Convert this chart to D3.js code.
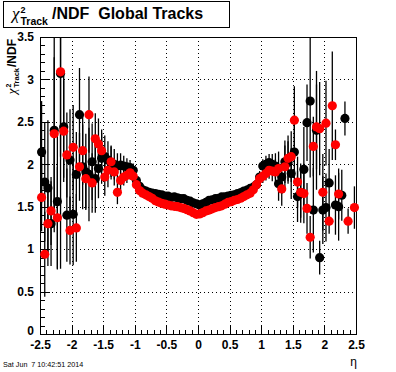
<!DOCTYPE html>
<html>
<head>
<meta charset="utf-8">
<script src="https://cdn.jsdelivr.net/npm/d3@7"></script>
<style>
  body { margin: 0; background: #fff; }
  svg { display: block; font-family: "Liberation Sans", Arial, sans-serif; }
</style>
</head>
<body>
<svg id="chart" width="396" height="372"></svg>
<script>
// bin centres in eta (100 bins from -2.5 to 2.5)
const etaBins = [
  -2.475, -2.425, -2.375, -2.325, -2.275, -2.225, -2.175, -2.125, -2.075, -2.025,
  -1.975, -1.925, -1.875, -1.825, -1.775, -1.725, -1.675, -1.625, -1.575, -1.525,
  -1.475, -1.425, -1.375, -1.325, -1.275, -1.225, -1.175, -1.125, -1.075, -1.025,
  -0.975, -0.925, -0.875, -0.825, -0.775, -0.725, -0.675, -0.625, -0.575, -0.525,
  -0.475, -0.425, -0.375, -0.325, -0.275, -0.225, -0.175, -0.125, -0.075, -0.025,
  0.025, 0.075, 0.125, 0.175, 0.225, 0.275, 0.325, 0.375, 0.425, 0.475,
  0.525, 0.575, 0.625, 0.675, 0.725, 0.775, 0.825, 0.875, 0.925, 0.975,
  1.025, 1.075, 1.125, 1.175, 1.225, 1.275, 1.325, 1.375, 1.425, 1.475,
  1.525, 1.575, 1.625, 1.675, 1.725, 1.775, 1.825, 1.875, 1.925, 1.975,
  2.025, 2.075, 2.125, 2.175, 2.225, 2.275, 2.325, 2.375, 2.425, 2.475
];

// black histogram
const blackChi2 = [
  2.145, 1.79, 1.72, 1.30, 2.40, 1.56, 3.07, 2.44, 1.40, 2.05,
  1.41, 1.88, 2.585, 1.97, 1.91, 1.88, 2.03, 1.83, 1.95, 2.07,
  2.09, 2.05, 2.02, 2.00, 1.98, 1.99, 1.98, 1.97, 1.96, 1.93,
  1.81, 1.74, 1.70, 1.685, 1.67, 1.66, 1.655, 1.645, 1.64, 1.625,
  1.625, 1.61, 1.615, 1.605, 1.595, 1.595, 1.575, 1.565, 1.545, 1.535,
  1.52, 1.535, 1.55, 1.575, 1.58, 1.595, 1.60, 1.615, 1.615, 1.625,
  1.635, 1.64, 1.655, 1.665, 1.685, 1.695, 1.715, 1.73, 1.76, 1.85,
  1.98, 2.00, 2.02, 2.00, 1.98, 1.77, 1.85, 2.03, 2.02, 1.89,
  2.145, 1.62, 1.66, 1.94, 2.49, 2.745, 1.46, 2.40, 0.90, 1.46,
  1.49, 1.78, null, 1.52, 1.50, 1.635, 2.54, null, null, null
];
const blackErr = [
  0.6, 0.7, 0.8, 0.5, 1.2, 0.8, 2.3, 0.6, 0.55, 0.6,
  0.6, 0.5, 0.55, 0.5, 0.45, 0.55, 0.45, 0.4, 0.35, 0.3,
  0.25, 0.22, 0.2, 0.18, 0.15, 0.14, 0.12, 0.1, 0.09, 0.08,
  0.07, 0.06, 0.05, 0.05, 0.04, 0.04, 0.04, 0.04, 0.04, 0.04,
  0.04, 0.04, 0.04, 0.04, 0.04, 0.04, 0.04, 0.04, 0.04, 0.04,
  0.04, 0.04, 0.04, 0.04, 0.04, 0.04, 0.04, 0.04, 0.04, 0.04,
  0.04, 0.04, 0.04, 0.04, 0.04, 0.04, 0.05, 0.05, 0.06, 0.07,
  0.08, 0.1, 0.1, 0.12, 0.15, 0.2, 0.2, 0.25, 0.25, 0.3,
  0.35, 0.3, 0.35, 0.5, 0.45, 0.9, 0.5, 0.7, 0.2, 0.4,
  0.4, 0.4, null, 0.35, 0.4, 0.3, 0.2, null, null, null
];

// red histogram
const redChi2 = [
  1.61, 0.94, 1.30, 1.45, 2.36, 1.37, 3.09, 2.39, 2.11, 1.22,
  2.20, 1.25, 1.97, 2.16, 1.83, 2.585, 1.78, 2.30, 2.24, 2.16,
  1.85, 1.93, 2.03, 1.91, 1.67, 1.81, 1.85, 1.87, 1.90, 1.86,
  1.76, 1.69, 1.66, 1.64, 1.62, 1.60, 1.57, 1.555, 1.54, 1.53,
  1.52, 1.51, 1.505, 1.50, 1.49, 1.48, 1.465, 1.45, 1.43, 1.41,
  1.415, 1.43, 1.45, 1.46, 1.475, 1.49, 1.50, 1.51, 1.53, 1.55,
  1.56, 1.575, 1.585, 1.60, 1.62, 1.64, 1.66, 1.70, 1.76, 1.83,
  1.86, 1.89, 1.93, 1.92, 1.91, 1.95, 1.71, 1.97, 2.07, 2.09,
  2.52, 1.79, 1.67, 1.655, 1.48, 1.14, 2.21, 2.44, 2.42, 1.67,
  2.485, 1.33, 2.69, 2.23, 1.65, null, null, 1.33, null, 1.49
];
const redErr = [
  0.4, 0.5, 0.5, 0.4, 0.9, 0.6, 1.0, 0.6, 0.5, 0.4,
  0.5, 0.4, 0.4, 0.4, 0.35, 0.45, 0.35, 0.3, 0.3, 0.25,
  0.22, 0.2, 0.18, 0.16, 0.14, 0.12, 0.1, 0.09, 0.08, 0.07,
  0.06, 0.05, 0.05, 0.04, 0.04, 0.04, 0.04, 0.04, 0.04, 0.04,
  0.04, 0.04, 0.04, 0.04, 0.04, 0.04, 0.04, 0.04, 0.04, 0.04,
  0.04, 0.04, 0.04, 0.04, 0.04, 0.04, 0.04, 0.04, 0.04, 0.04,
  0.04, 0.04, 0.04, 0.04, 0.04, 0.04, 0.05, 0.05, 0.06, 0.07,
  0.08, 0.08, 0.1, 0.12, 0.15, 0.2, 0.2, 0.25, 0.27, 0.3,
  0.4, 0.3, 0.3, 0.35, 0.3, 0.25, 0.35, 0.5, 0.55, 0.45,
  0.5, 0.15, 0.64, 0.18, 0.3, null, null, 0.15, null, 0.25
];

const xTicks = [-2.5, -2, -1.5, -1, -0.5, 0, 0.5, 1, 1.5, 2, 2.5];
const yTicks = [0, 0.5, 1, 1.5, 2, 2.5, 3, 3.5];
const titleText = '/NDF  Global Tracks';
const xLabel = 'η';
const dateText = 'Sat Jun  7 10:42:51 2014';

const margin = { top: 37, right: 40, bottom: 38, left: 40 };
const width = 396;
const height = 372;
const innerW = width - margin.left - margin.right;
const innerH = height - margin.top - margin.bottom;

const svg = d3.select('#chart');

const xScale = d3.scaleLinear().domain([-2.5, 2.5]).range([margin.left, margin.left + innerW]);
const yScale = d3.scaleLinear().domain([0, 3.5]).range([margin.top + innerH, margin.top]);

svg.append('rect').attr('width', width).attr('height', height).attr('fill', '#fff');

// clip for error bars
svg.append('clipPath').attr('id', 'frameClip')
  .append('rect')
  .attr('x', margin.left - 6).attr('y', margin.top)
  .attr('width', innerW + 12).attr('height', innerH);

// grid (dotted)
const grid = svg.append('g').attr('stroke', '#000').attr('stroke-width', 1)
  .attr('stroke-dasharray', '1,3').attr('shape-rendering', 'crispEdges');
grid.selectAll('.gx').data(xTicks).join('line')
  .attr('x1', (d) => Math.round(xScale(d)) + 0.5).attr('x2', (d) => Math.round(xScale(d)) + 0.5)
  .attr('y1', margin.top).attr('y2', margin.top + innerH);
grid.selectAll('.gy').data(yTicks).join('line')
  .attr('y1', (d) => Math.round(yScale(d)) + 0.5).attr('y2', (d) => Math.round(yScale(d)) + 0.5)
  .attr('x1', margin.left).attr('x2', margin.left + innerW);

// axes
function styleAxis(g) {
  g.select('.domain').remove();
  g.selectAll('line').attr('stroke', '#000').attr('shape-rendering', 'crispEdges');
  g.selectAll('text').attr('fill', '#000');
  g.attr('font-size', 12).attr('font-weight', 'bold')
    .attr('font-family', '"Liberation Sans", Arial, sans-serif');
}

svg.append('g')
  .attr('transform', `translate(0, ${margin.top + innerH})`)
  .call(d3.axisBottom(xScale).ticks(50).tickSize(-4.5).tickFormat(''))
  .call(styleAxis);
svg.append('g')
  .attr('transform', `translate(0, ${margin.top + innerH})`)
  .call(d3.axisBottom(xScale).tickValues(xTicks).tickSize(-9).tickPadding(6).tickFormat((d) => String(d)))
  .call(styleAxis);

svg.append('g')
  .attr('transform', `translate(${margin.left}, 0)`)
  .call(d3.axisLeft(yScale).ticks(35).tickSize(-4.7).tickFormat(''))
  .call(styleAxis);
const yAxisG = svg.append('g')
  .attr('transform', `translate(${margin.left}, 0)`)
  .call(d3.axisLeft(yScale).tickValues(yTicks).tickSize(-9.5).tickPadding(6).tickFormat((d) => String(d)))
  .call(styleAxis);
// the "0" label sits slightly above the axis corner, as in the original
yAxisG.selectAll('.tick').filter((d) => d === 0).select('text').attr('dy', '0.05em');

// frame
svg.append('rect')
  .attr('x', margin.left + 0.5).attr('y', margin.top + 0.5)
  .attr('width', innerW).attr('height', innerH)
  .attr('fill', 'none').attr('stroke', '#000').attr('stroke-width', 1)
  .attr('shape-rendering', 'crispEdges');

// histograms with error bars
function drawHist(values, errors, color) {
  const data = etaBins
    .map((eta, i) => ({ eta: eta, v: values[i], e: errors[i] }))
    .filter((d) => d.v != null);
  const g = svg.append('g');
  g.append('g').attr('clip-path', 'url(#frameClip)')
    .selectAll('line').data(data).join('line')
    .attr('x1', (d) => xScale(d.eta)).attr('x2', (d) => xScale(d.eta))
    .attr('y1', (d) => yScale(d.v + d.e)).attr('y2', (d) => yScale(d.v - d.e))
    .attr('stroke', '#000').attr('stroke-width', 1.3);
  g.append('g')
    .selectAll('circle').data(data).join('circle')
    .attr('cx', (d) => xScale(d.eta)).attr('cy', (d) => yScale(d.v))
    .attr('r', 4.6).attr('fill', color);
}
drawHist(blackChi2, blackErr, '#000');
drawHist(redChi2, redErr, '#ff0000');

// title box
svg.append('rect').attr('x', 3.5).attr('y', 1.5).attr('width', 226).attr('height', 26)
  .attr('fill', '#fff').attr('stroke', '#000').attr('stroke-width', 1);
const title = svg.append('g');
title.append('text').attr('x', 12).attr('y', 19)
  .attr('font-family', '"Liberation Serif", "Times New Roman", serif').attr('font-style', 'italic')
  .attr('font-size', 17).text('χ');
title.append('text').attr('x', 20.5).attr('y', 13).attr('font-size', 9).attr('font-weight', 'bold').text('2');
title.append('text').attr('x', 20.5).attr('y', 25).attr('font-size', 10.5).attr('font-weight', 'bold').text('Track');
title.append('text').attr('x', 52).attr('y', 19).attr('font-size', 16).attr('font-weight', 'bold')
  .style('white-space', 'pre').text(titleText);

// y axis title (rotated, right-aligned to the top of the frame)
const yTitle = svg.append('g').attr('transform', `translate(16, ${margin.top + 2}) rotate(-90)`);
const ndf = yTitle.append('text').attr('x', 0).attr('y', 0).attr('text-anchor', 'end')
  .attr('font-size', 12).attr('font-weight', 'bold').text('/NDF');
const ndfW = ndf.node().getComputedTextLength();
const track = yTitle.append('text').attr('x', -ndfW - 1).attr('y', 2.5).attr('text-anchor', 'end')
  .attr('font-size', 7.5).attr('font-weight', 'bold').text('Track');
const trackW = track.node().getComputedTextLength();
yTitle.append('text').attr('x', -ndfW - 1 - trackW).attr('y', -5.5)
  .attr('font-size', 7).attr('font-weight', 'bold').text('2');
yTitle.append('text').attr('x', -ndfW - 2 - trackW).attr('y', 0).attr('text-anchor', 'end')
  .attr('font-family', '"Liberation Serif", "Times New Roman", serif').attr('font-style', 'italic')
  .attr('font-size', 13).text('χ');

// x axis title
svg.append('text').attr('x', margin.left + innerW + 1).attr('y', 366).attr('text-anchor', 'end')
  .attr('font-size', 12).text(xLabel);

// date stamp
svg.append('text').attr('x', 3).attr('y', 367).attr('font-size', 7.2)
  .style('white-space', 'pre').text(dateText);
</script>
</body>
</html>
